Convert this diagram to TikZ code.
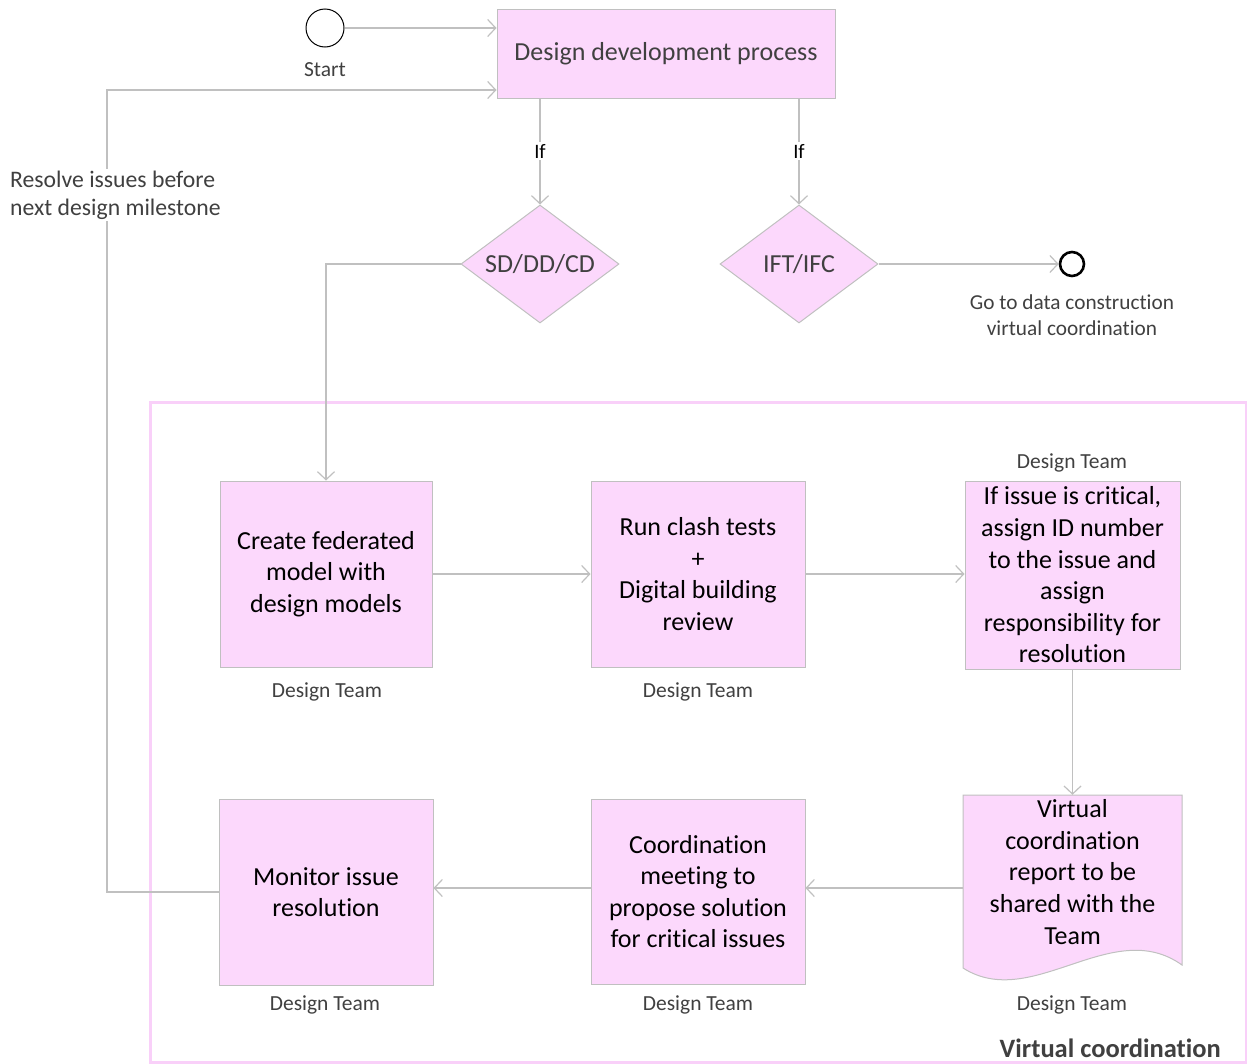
\documentclass[tikz,border=0pt]{standalone}
\usepackage{fontspec}
\setmainfont{Carlito}[Ligatures=NoCommon]
\usetikzlibrary{arrows.meta,shapes.geometric}
\definecolor{boxfill}{RGB}{252,216,252}
\definecolor{boxline}{RGB}{192,192,192}
\definecolor{conn}{RGB}{192,192,192}
\definecolor{framepink}{RGB}{249,208,249}
\definecolor{labelgray}{RGB}{64,64,64}
\begin{document}
\begin{tikzpicture}[x=1pt,y=-1pt,
  proc/.style={draw=boxline, fill=boxfill, line width=1pt, inner sep=0pt,
    align=center, font=\fontsize{26}{31.6}\selectfont},
  decide/.style={diamond, draw=boxline, fill=boxfill, line width=1pt, inner sep=0pt,
    aspect=1.34, minimum width=158pt, minimum height=118pt,
    font=\fontsize{26}{31.6}\selectfont, text=labelgray},
  lbl/.style={font=\fontsize{21.5}{26}\selectfont, text=labelgray, align=center, inner sep=1pt},
  conn/.style={draw=conn, line width=1.2pt,
    -{Straight Barb[length=8pt,width=17pt,line width=1.2pt]}},
  plain/.style={draw=conn, line width=1.2pt}
]
\useasboundingbox (0,0) rectangle (1247,1063);

% frame of the coordination stage
\draw[framepink, line width=3pt] (150,402) rectangle (1246,1062);
\node[anchor=east, font=\bfseries\fontsize{26.5}{30}\selectfont, text=labelgray, inner sep=0pt]
  (stage) at (1221,1048) {Virtual coordination};

% start and end events
\node[circle, draw=black, line width=1pt, minimum size=38pt, inner sep=0pt] (start) at (325,28) {};
\node[lbl] (startlbl) at (325,70) {Start};
\node[circle, draw=black, line width=2.6pt, minimum size=24pt, inner sep=0pt] (finish) at (1072,264) {};
\node[lbl, font=\fontsize{21.3}{26}\selectfont] (finishlbl) at (1072,315)
  {Go to data construction\\virtual coordination};

% top process and decisions
\node[proc, minimum width=338pt, minimum height=89pt, text=labelgray] (design) at (666,53.5)
  {Design development process};
\node[decide] (sd) at (540,264) {SD/DD/CD};
\node[decide] (ift) at (799,264) {IFT/IFC};

% coordination steps
\node[proc, minimum width=212pt, minimum height=186pt] (create) at (326,574)
  {Create federated\\model with\\design models};
\node[proc, minimum width=214pt, minimum height=186pt] (clash) at (698,574)
  {Run clash tests\\+\\Digital building\\review};
\node[proc, minimum width=215pt, minimum height=188pt] (assign) at (1072.5,575)
  {If issue is critical,\\assign ID number\\to the issue and\\assign\\responsibility for\\resolution};
\node[proc, minimum width=214pt, minimum height=185pt] (meeting) at (698,891.5)
  {Coordination\\meeting to\\propose solution\\for critical issues};
\node[proc, minimum width=214pt, minimum height=186pt] (monitor) at (326,892)
  {Monitor issue\\resolution};

% report document with wavy lower edge
\node[minimum width=219pt, minimum height=186pt, inner sep=0pt] (doc) at (1072.5,888) {};
\draw[draw=boxline, fill=boxfill, line width=1pt]
  (963,795) -- (1182,795) -- (1182,965)
  .. controls (1112,915) and (1032,1012) .. (963,968) -- cycle;
\node[align=center, font=\fontsize{26}{31.6}\selectfont, inner sep=0pt] (doctext) at (1072.5,872)
  {Virtual\\coordination\\report to be\\shared with the\\Team};

% role labels
\node[lbl] (r1) at (327,692) {Design Team};
\node[lbl] (r2) at (698,692) {Design Team};
\node[lbl] (r3) at (1072,463) {Design Team};
\node[lbl] (r4) at (1072,1005) {Design Team};
\node[lbl] (r5) at (698,1005) {Design Team};
\node[lbl] (r6) at (325,1005) {Design Team};

% connectors
\coordinate (loop) at (107,90);
\draw[conn] (start.east) -- (start.east -| design.west);
\draw[conn] (monitor.west) -- (monitor.west -| loop) -- (loop) -- (loop -| design.west);
\node[lbl, anchor=west, fill=white, align=left, font=\fontsize{23.7}{28}\selectfont, inner sep=2pt]
  (resolve) at (8,195) {Resolve issues before\\next design milestone};

\draw[conn] (design.south -| sd.north) -- (sd.north);
\draw[conn] (design.south -| ift.north) -- (ift.north);
\node[fill=white, font=\fontsize{20.5}{24}\selectfont, inner sep=2pt] (if1) at (540,151) {If};
\node[fill=white, font=\fontsize{20.5}{24}\selectfont, inner sep=2pt] (if2) at (799,151) {If};

\draw[conn] (ift.east) -- (ift.east -| finish.west);
\draw[conn] (sd.west) -| (create.north);
\draw[conn] (create.east) -- (create.east -| clash.west);
\draw[conn] (clash.east) -- (clash.east -| assign.west);
\draw[conn] (assign.south) -- (doc.north);
\draw[conn] (doc.west) -- (doc.west -| meeting.east);
\draw[conn] (meeting.west |- doc.west) -- (monitor.east |- doc.west);
\end{tikzpicture}
\end{document}
